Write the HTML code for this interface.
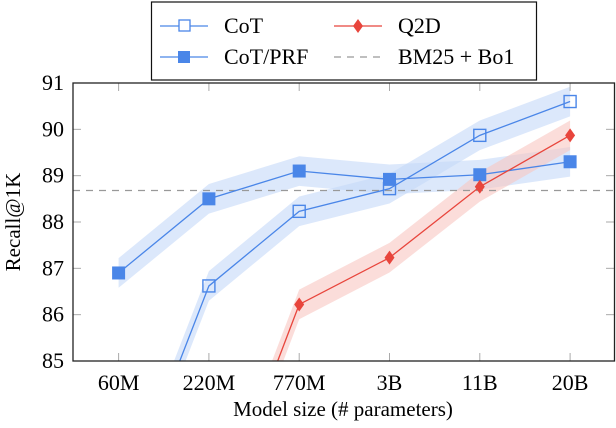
<!DOCTYPE html>
<html><head><meta charset="utf-8"><style>
html,body{margin:0;padding:0;background:#fff;overflow:hidden;width:616px;height:428px;}
svg{display:block;font-family:"Liberation Serif",serif;}
</style></head><body>
<svg id="chart" width="616" height="428" viewBox="0 0 616 428">
<g id="bands"></g>
<g id="grid"></g>
<g id="lines"></g>
<g id="markers"></g>
<rect x="73" y="83" width="541.5" height="278" fill="none" stroke="#222" stroke-width="1.3"/>
<g id="axes"></g>
<text x="343" y="416" font-size="21" text-anchor="middle">Model size (# parameters)</text>
<text transform="translate(20,222) rotate(-90)" font-size="21" text-anchor="middle">Recall@1K</text>
<g>
<rect x="151.5" y="2" width="385" height="78" fill="#fff" stroke="#111" stroke-width="1.2"/>
<g>
<line x1="160" y1="26" x2="208" y2="26" stroke="#4a86e8" stroke-width="1.2"/>
<rect x="179" y="20" width="11" height="11" fill="#fff" stroke="#4a86e8" stroke-width="1.3"/>
<text x="224" y="33" font-size="22">CoT</text></g>
<g>
<line x1="160" y1="57" x2="208" y2="57" stroke="#4a86e8" stroke-width="1.2"/>
<rect x="178" y="51" width="12" height="12" fill="#4a86e8"/>
<text x="224" y="64" font-size="22">CoT/PRF</text></g>
<g>
<line x1="334" y1="26" x2="382" y2="26" stroke="#e8453c" stroke-width="1.2"/>
<path d="M358 19 L363 26 L358 33 L353 26 Z" fill="#e8453c"/>
<text x="398" y="33" font-size="22">Q2D</text></g>
<g>
<line x1="334" y1="57" x2="382" y2="57" stroke="#999" stroke-width="1.2" stroke-dasharray="7,6"/>
<text x="398" y="64" font-size="22">BM25 + Bo1</text></g>
</g>
</svg>
<script>
const categories = ["60M","220M","770M","3B","11B","20B"];
const yTicks = [85,86,87,88,89,90,91];
const cotValues = [81.6,86.62,88.23,88.72,89.87,90.6];
const cotPrfValues = [86.9,88.5,89.1,88.92,89.02,89.3];
const q2dValues = [null,81.1,86.22,87.23,88.76,89.87];
const baseline = 88.68;
const bandWidth = 0.32;

const NS="http://www.w3.org/2000/svg";
const x0=118.6, dx=90.3, yTop=83, yBot=361, yMin=85, yMax=91;
const X=i=>x0+i*dx;
const Y=v=>yBot-(v-yMin)/(yMax-yMin)*(yBot-yTop);
function mk(t,a,p){const e=document.createElementNS(NS,t);for(const k in a)e.setAttribute(k,a[k]);p.appendChild(e);return e;}
const bands=document.getElementById('bands'),lines=document.getElementById('lines'),markers=document.getElementById('markers'),axes=document.getElementById('axes'),grid=document.getElementById('grid');

// clip a series of [i,v] to v>=yMin by interpolation; returns [x,y] pixel points
function clipPts(arr){
  const out=[];
  for(let k=0;k<arr.length;k++){
    const [i,v]=arr[k];
    if(v>=yMin){out.push([X(i),Y(v)]);continue;}
    const nb=[arr[k-1],arr[k+1]];
    nb.forEach((n,j)=>{
      if(n&&n[1]>=yMin){
        const t=(yMin-v)/(n[1]-v);
        const p=[X(i+(n[0]-i)*t),Y(yMin)];
        if(j===0)out.push(p);else out.push(p);
      }
    });
  }
  return out;
}

categories.forEach((c,i)=>{
  const t=mk('line',{x1:X(i),x2:X(i),y1:yTop,y2:yTop+8,stroke:'#aaa','stroke-width':1},grid);
  
  const b=mk('line',{x1:X(i),x2:X(i),y1:yBot,y2:yBot-8,stroke:'#aaa','stroke-width':1},grid);
  
  const l=mk('text',{x:X(i),y:yBot+29,'font-size':22,'text-anchor':'middle'},axes);l.textContent=c;
  
});
yTicks.forEach(v=>{
  const t=mk('line',{x1:73,x2:81,y1:Y(v),y2:Y(v),stroke:'#aaa','stroke-width':1},grid);
  
  const r=mk('line',{x1:606,x2:614,y1:Y(v),y2:Y(v),stroke:'#aaa','stroke-width':1},grid);
  
  const l=mk('text',{x:64,y:Y(v)+7,'font-size':22,'text-anchor':'end'},axes);l.textContent=v;
  
});

const bl=mk('line',{x1:73,x2:614,y1:Y(baseline),y2:Y(baseline),stroke:'#999','stroke-width':1.3,'stroke-dasharray':'7,6'},lines);


function series(vals,color,fill,name,marker){
  const raw=vals.map((v,i)=>v==null?null:[i,v]).filter(p=>p);
  const up=clipPts(raw.map(p=>[p[0],p[1]+bandWidth]));
  const dn=clipPts(raw.map(p=>[p[0],p[1]-bandWidth])).reverse();
  const b=mk('polygon',{points:up.concat(dn).map(p=>p.join(',')).join(' '),fill:fill,opacity:0.6},bands);
  
  const l=mk('polyline',{points:clipPts(raw).map(p=>p.join(',')).join(' '),fill:'none',stroke:color,'stroke-width':1.3},lines);
  
  raw.forEach(p=>{
    if(p[1]<yMin||p[1]>yMax)return;
    const x=X(p[0]),y=Y(p[1]);
    let m;
    if(marker==='open') m=mk('rect',{x:x-6,y:y-6,width:12,height:12,fill:'none',stroke:color,'stroke-width':1.4},markers);
    else if(marker==='filled') m=mk('rect',{x:x-6.5,y:y-6.5,width:13,height:13,fill:color},markers);
    else m=mk('path',{d:`M${x} ${y-7}L${x+5} ${y}L${x} ${y+7}L${x-5} ${y}Z`,fill:color},markers);
    
  });
}
series(cotPrfValues,'#4a86e8','#c4d9f8','cot-prf','filled');
series(cotValues,'#4a86e8','#c4d9f8','cot','open');
series(q2dValues,'#e8453c','#f8c6c2','q2d','diamond');
</script>
</body></html>
